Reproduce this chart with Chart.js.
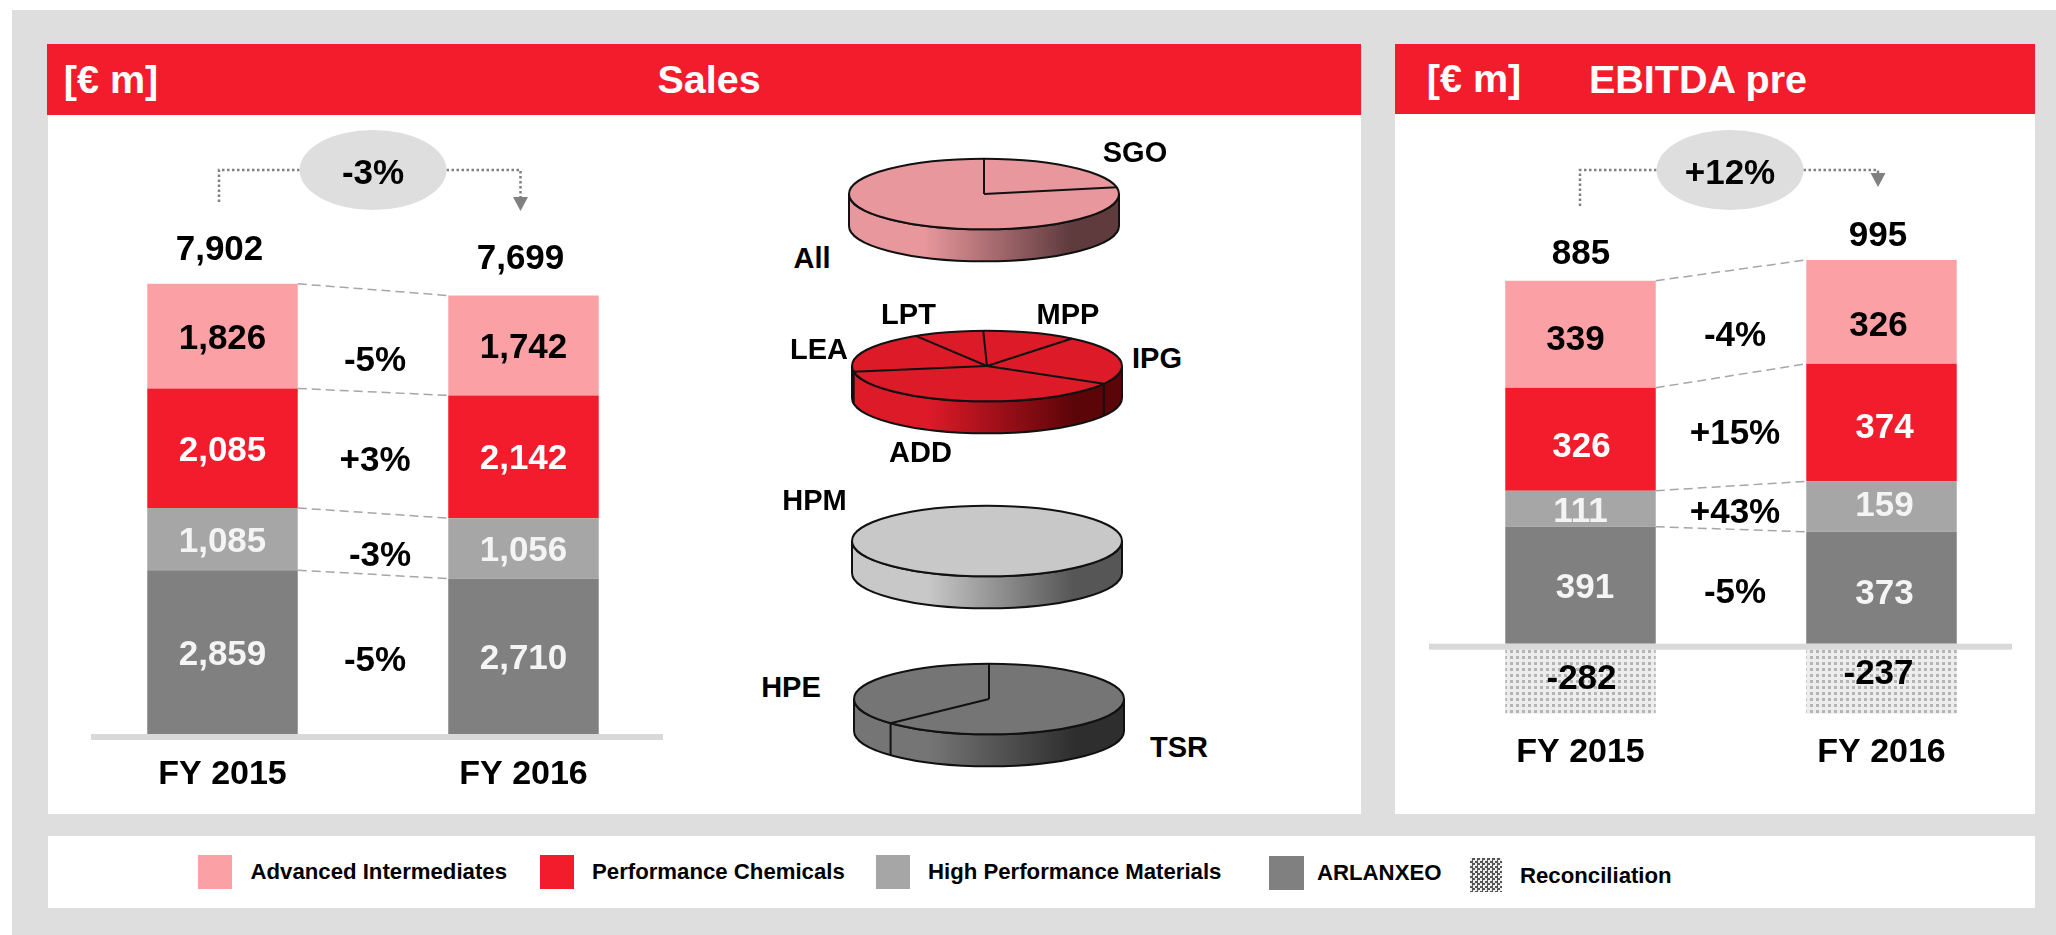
<!DOCTYPE html>
<html>
<head>
<meta charset="utf-8">
<title>Sales and EBITDA pre</title>
<script src="https://cdn.jsdelivr.net/npm/chart.js@4/dist/chart.umd.min.js"></script>
<style>
  html, body { margin: 0; padding: 0; background: #fff; overflow: hidden; }
  body { width: 2056px; height: 935px; position: relative; font-family: "Liberation Sans", Arial, sans-serif; font-weight: bold; color: #000; }
  .box { position: absolute; }
  .frame { left: 12px; top: 10px; width: 2044px; height: 925px; background: #dedede; }
  .panel { background: #fff; }
  .head { background: #f31c2c; color: #fff; }
  .txt { position: absolute; white-space: nowrap; transform: translate(-50%, -50%); line-height: 1; }
  .head-txt { font-size: 39.5px; color: #fff; }
  .pie-txt { font-size: 29px; }
  .leg-txt { position: absolute; white-space: nowrap; font-size: 22.2px; line-height: 1; transform: translateY(-50%); }
  canvas { position: absolute; }
</style>
</head>
<body>
<div class="box frame"></div>
<div class="box panel" style="left:48px;top:115px;width:1313px;height:699px"></div>
<div class="box panel" style="left:1395px;top:114px;width:640px;height:700px"></div>
<div class="box panel" style="left:48px;top:836px;width:1987px;height:72px"></div>
<div class="box head" style="left:47px;top:44px;width:1314px;height:71px"></div>
<div class="box head" style="left:1395px;top:44px;width:640px;height:70px"></div>
<div class="txt head-txt" style="left:111px;top:80px">[€ m]</div>
<div class="txt head-txt" style="left:709px;top:80px">Sales</div>
<div class="txt head-txt" style="left:1474px;top:79px">[€ m]</div>
<div class="txt head-txt" style="left:1698px;top:80px">EBITDA pre</div>
<canvas id="sales" width="626" height="699" style="left:48px;top:115px"></canvas>
<canvas id="ebitda" width="640" height="699" style="left:1395px;top:115px"></canvas>
<div id="pies"></div>
<div id="legend"></div>

<script>
const years = ['FY 2015', 'FY 2016'];
const seriesNames = ['ARLANXEO', 'High Performance Materials', 'Performance Chemicals', 'Advanced Intermediates'];
const reconName = 'Reconciliation';

// Sales, EUR m
const salesArlanxeo = [2859, 2710];
const salesHighPerf = [1085, 1056];
const salesPerfChem = [2085, 2142];
const salesAdvInter = [1826, 1742];
const salesTotals = ['7,902', '7,699'];
const salesDeltas = ['-5%', '-3%', '+3%', '-5%'];
const salesGrowth = '-3%';

// EBITDA pre, EUR m: printed figures
const ebitdaArlanxeo = [391, 373];
const ebitdaHighPerf = [111, 159];
const ebitdaPerfChem = [326, 374];
const ebitdaAdvInter = [339, 326];
const ebitdaRecon = [-282, -237];
const ebitdaTotals = ['885', '995'];
const ebitdaDeltas = ['-5%', '+43%', '+15%', '-4%'];
const ebitdaGrowth = '+12%';

// the source slide does not draw these bars to scale (both reconciliation boxes
// are the same height), so the drawn lengths are read off the picture
const ebitdaArlanxeoDrawn = [376, 360];
const ebitdaHighPerfDrawn = [116, 162];
const ebitdaPerfChemDrawn = [331, 378];
const ebitdaAdvInterDrawn = [344, 334];
const ebitdaReconDrawn = [-225, -225];

// pie shares in %
const pieAllNames = ['SGO', 'All'];
const pieAllShares = [22, 78];
const pieAddNames = ['MPP', 'IPG', 'ADD', 'LEA', 'LPT'];
const pieAddShares = [11.3, 22.5, 39.1, 18.7, 8.4];
const pieHpmNames = ['HPM'];
const pieHpmShares = [100];
const pieTsrNames = ['TSR', 'HPE'];
const pieTsrShares = [63, 37];

const RED = '#f31c2c', PINK = '#fba1a6', MID = '#a6a6a6', DARK = '#808080';
const seriesColors = [DARK, MID, RED, PINK];
const labelColors = ['#f4f4f4', '#f4f4f4', '#fff', '#000'];
const FONT = '"Liberation Sans", Arial, sans-serif';

function dotPattern() {
  const c = document.createElement('canvas');
  c.width = c.height = 6;
  const g = c.getContext('2d');
  g.fillStyle = '#ededed';
  g.fillRect(0, 0, 6, 6);
  g.fillStyle = '#b4b4b4';
  g.fillRect(1, 1, 3, 3);
  return g.createPattern(c, 'repeat');
}

// axis rule, connectors, printed figures and the growth bubble
const slideNotes = {
  id: 'slideNotes',
  afterDraw(chart, args, o) {
    const ctx = chart.ctx;
    ctx.save();
    ctx.translate(-o.left, -o.top); // layout below is in page pixels
    const y0 = chart.scales.y.getPixelForValue(0);
    const metas = o.labels.map((_, i) => chart.getDatasetMeta(i));

    ctx.fillStyle = '#d9d9d9';
    ctx.fillRect(o.left + o.ruleFrom, o.top + y0, o.ruleTo - o.ruleFrom, 6);

    // dashed connectors between the segment tops
    ctx.strokeStyle = '#a6a6a6';
    ctx.lineWidth = 1.5;
    ctx.setLineDash([9, 5]);
    metas.slice(0, 4).forEach(m => {
      const a = m.data[0], b = m.data[1];
      ctx.beginPath();
      ctx.moveTo(o.left + a.x + a.width / 2, o.top + a.y);
      ctx.lineTo(o.left + b.x - b.width / 2, o.top + b.y);
      ctx.stroke();
    });
    ctx.setLineDash([]);

    ctx.textAlign = 'center';
    ctx.textBaseline = 'middle';
    ctx.font = 'bold 35px ' + FONT;

    // values inside the bars
    metas.forEach((m, s) => {
      m.data.forEach((el, i) => {
        const nudge = o.nudges[s][i];
        ctx.fillStyle = s < 4 ? labelColors[s] : '#000';
        ctx.fillText(o.labels[s][i], o.left + el.x + nudge[0], o.top + (el.y + el.base) / 2 + nudge[1] + 3);
      });
    });

    ctx.fillStyle = '#000';
    o.totals.forEach((t, i) => ctx.fillText(t, o.totalX[i], o.totalY[i] + 2));
    o.deltas.forEach((t, i) => ctx.fillText(t, o.deltaX[i], o.deltaY[i] + 3));

    // growth arrow
    const g = o.growth;
    ctx.strokeStyle = DARK;
    ctx.lineWidth = 2.5;
    ctx.setLineDash([2.5, 2.5]);
    ctx.beginPath();
    ctx.moveTo(g.fromX, g.fromY);
    ctx.lineTo(g.fromX, g.y);
    ctx.lineTo(g.cx - g.rx, g.y);
    ctx.moveTo(g.cx + g.rx, g.y);
    ctx.lineTo(g.toX, g.y);
    ctx.lineTo(g.toX, g.toY - 14);
    ctx.stroke();
    ctx.setLineDash([]);
    ctx.fillStyle = DARK;
    ctx.beginPath();
    ctx.moveTo(g.toX - 7.5, g.toY - 14);
    ctx.lineTo(g.toX + 7.5, g.toY - 14);
    ctx.lineTo(g.toX, g.toY);
    ctx.closePath();
    ctx.fill();
    ctx.fillStyle = '#dedede';
    ctx.beginPath();
    ctx.ellipse(g.cx, g.cy, g.rx, g.ry, 0, 0, Math.PI * 2);
    ctx.fill();
    ctx.fillStyle = '#000';
    ctx.fillText(g.text, g.cx, g.cy + 4);
    ctx.restore();
  }
};

function stackedChart(id, sets, notes, yMin, yMax, pad, axisH, tickPad) {
  const datasets = sets.map((data, i) => ({
    label: i < 4 ? seriesNames[i] : reconName,
    data,
    backgroundColor: i < 4 ? seriesColors[i] : dotPattern(),
    barPercentage: 0.5,
    categoryPercentage: 1
  }));
  return new Chart(document.getElementById(id), {
    type: 'bar',
    data: { labels: years, datasets },
    options: {
      responsive: false,
      animation: false,
      layout: { padding: pad },
      plugins: { legend: { display: false }, tooltip: { enabled: false }, slideNotes: notes },
      scales: {
        x: {
          stacked: true,
          grid: { display: false, drawTicks: false },
          border: { display: false },
          ticks: { color: '#000', padding: tickPad, maxRotation: 0, font: { family: FONT, size: 34, weight: 'bold' } },
          afterFit(scale) { scale.height = axisH; }
        },
        y: { stacked: true, display: false, min: yMin, max: yMax }
      }
    },
    plugins: [slideNotes]
  });
}

const noNudge = [[0, 0], [0, 0]];

stackedChart('sales',
  [salesArlanxeo, salesHighPerf, salesPerfChem, salesAdvInter],
  {
    left: 48, top: 115,
    ruleFrom: 43, ruleTo: 615,
    labels: [salesArlanxeo, salesHighPerf, salesPerfChem, salesAdvInter].map(a => a.map(v => v.toLocaleString('en-US'))),
    nudges: [noNudge, noNudge, noNudge, noNudge],
    totals: salesTotals, totalX: [219.5, 520.5], totalY: [248, 257],
    deltas: salesDeltas, deltaX: [375, 380, 375, 375], deltaY: [658, 553.6, 458, 358],
    growth: { text: salesGrowth, cx: 373, cy: 170, rx: 73.5, ry: 40, y: 170, fromX: 219, fromY: 202, toX: 520.5, toY: 211 }
  },
  0, 10800, { left: 24, right: 0, top: 0, bottom: 0 }, 80, 20);

stackedChart('ebitda',
  [ebitdaArlanxeoDrawn, ebitdaHighPerfDrawn, ebitdaPerfChemDrawn, ebitdaAdvInterDrawn, ebitdaReconDrawn],
  {
    left: 1395, top: 115,
    ruleFrom: 34, ruleTo: 617,
    labels: [ebitdaArlanxeo, ebitdaHighPerf, ebitdaPerfChem, ebitdaAdvInter, ebitdaRecon].map(a => a.map(String)),
    nudges: [
      [[4.5, 0], [3, 4]],
      [[0, 1], [3, -3]],
      [[1, 5], [3, 2.4]],
      [[-5, 3], [-3, 11]],
      [[1, -2], [-3, -7]]
    ],
    totals: ebitdaTotals, totalX: [1581, 1878], totalY: [252, 234.5],
    deltas: ebitdaDeltas, deltaX: [1735, 1735, 1735, 1735], deltaY: [590, 510, 431.5, 333],
    growth: { text: ebitdaGrowth, cx: 1730, cy: 170, rx: 73.5, ry: 40, y: 170, fromX: 1580, fromY: 206, toX: 1878, toY: 187 }
  },
  -300, 1700, { left: 35, right: 3, top: 0, bottom: 0 }, 77, -5);

// flat pie chart squashed into an ellipse, with a wall drawn under it
const PIE_K = 0.262, PIE_T = 32;
const squashPie = {
  id: 'squashPie',
  beforeDatasetsDraw(chart, args, o) {
    const ctx = chart.ctx;
    const arc = chart.getDatasetMeta(0).data[0];
    const cx = arc.x, cy = arc.y, rx = arc.outerRadius, ry = rx * PIE_K;
    const grad = ctx.createLinearGradient(cx - rx, 0, cx + rx, 0);
    grad.addColorStop(0, o.base);
    grad.addColorStop(0.28, o.base);
    grad.addColorStop(0.82, o.dark);
    grad.addColorStop(1, o.dark);
    ctx.beginPath();
    ctx.ellipse(cx, cy + PIE_T, rx, ry, 0, Math.PI, 0, true);
    ctx.lineTo(cx + rx, cy);
    ctx.ellipse(cx, cy, rx, ry, 0, 0, Math.PI, false);
    ctx.closePath();
    ctx.fillStyle = grad;
    ctx.fill();
    ctx.lineWidth = 2;
    ctx.strokeStyle = '#111';
    ctx.stroke();
    ctx.save();
    ctx.translate(cx, cy);
    ctx.scale(1, PIE_K);
    ctx.translate(-cx, -cy);
  },
  afterDatasetsDraw(chart) {
    const ctx = chart.ctx;
    ctx.restore();
    const slices = chart.getDatasetMeta(0).data;
    const cx = slices[0].x, cy = slices[0].y, rx = slices[0].outerRadius, ry = rx * PIE_K;
    ctx.lineWidth = 2;
    ctx.strokeStyle = '#111';
    ctx.beginPath();
    ctx.ellipse(cx, cy, rx, ry, 0, 0, Math.PI * 2);
    ctx.stroke();
    if (slices.length < 2) return;
    slices.forEach(s => {
      const px = cx + rx * Math.cos(s.startAngle), py = cy + ry * Math.sin(s.startAngle);
      ctx.beginPath();
      ctx.moveTo(cx, cy);
      ctx.lineTo(px, py);
      if (Math.sin(s.startAngle) > 0) {
        ctx.moveTo(px, py);
        ctx.lineTo(px, py + PIE_T);
      }
      ctx.stroke();
    });
  }
};

const pieSpecs = [
  { names: pieAllNames, shares: pieAllShares, base: '#e8979c', dark: '#5f3b3e', cx: 984, cy: 193.5, rot: 0 },
  { names: pieAddNames, shares: pieAddShares, base: '#dd1a28', dark: '#5c0509', cx: 986.5, cy: 365.5, rot: -1.6 },
  { names: pieHpmNames, shares: pieHpmShares, base: '#c8c8c8', dark: '#565656', cx: 987, cy: 541, rot: 0 },
  { names: pieTsrNames, shares: pieTsrShares, base: '#757575', dark: '#2e2e2e', cx: 989, cy: 699, rot: 0 }
];
const pieLabelSpots = {
  SGO: [1135, 152], All: [812, 258], LPT: [908.5, 314], MPP: [1068, 314], LEA: [819, 349],
  IPG: [1157, 358], ADD: [920.5, 452], HPM: [814.5, 500], HPE: [791, 687], TSR: [1179, 747]
};

const pieHost = document.getElementById('pies');
pieSpecs.forEach(p => {
  const c = document.createElement('canvas');
  c.width = c.height = 290;
  c.style.left = (p.cx - 145) + 'px';
  c.style.top = (p.cy - 145) + 'px';
  pieHost.appendChild(c);
  new Chart(c, {
    type: 'pie',
    data: { labels: p.names, datasets: [{ data: p.shares, backgroundColor: p.base, borderWidth: 0 }] },
    options: {
      responsive: false,
      animation: false,
      rotation: p.rot,
      layout: { padding: 10 },
      plugins: { legend: { display: false }, tooltip: { enabled: false }, squashPie: { base: p.base, dark: p.dark } }
    },
    plugins: [squashPie]
  });
});
['SGO', 'All', 'LPT', 'MPP', 'LEA', 'IPG', 'ADD', 'HPM', 'HPE', 'TSR'].forEach(n => {
  const d = document.createElement('div');
  d.className = 'txt pie-txt';
  d.textContent = n;
  d.style.left = pieLabelSpots[n][0] + 'px';
  d.style.top = pieLabelSpots[n][1] + 'px';
  pieHost.appendChild(d);
});

// legend
const legendItems = [
  { name: seriesNames[3], fill: PINK, x: 198, y: 855, w: 34, tx: 250.5, ty: 872 },
  { name: seriesNames[2], fill: RED, x: 540, y: 855, w: 34, tx: 592, ty: 872 },
  { name: seriesNames[1], fill: MID, x: 876, y: 855, w: 34, tx: 928, ty: 872 },
  { name: seriesNames[0], fill: DARK, x: 1269, y: 856, w: 35, tx: 1317, ty: 873 },
  { name: reconName, fill: 'repeating-conic-gradient(#555 0 25%, #eee 0 50%) 0 0/5px 5px', x: 1470, y: 858, w: 32, tx: 1520, ty: 876 }
];
const legendHost = document.getElementById('legend');
legendItems.forEach(it => {
  const s = document.createElement('div');
  s.className = 'box';
  s.style.cssText = `left:${it.x}px;top:${it.y}px;width:${it.w}px;height:34px;background:${it.fill}`;
  legendHost.appendChild(s);
  const t = document.createElement('div');
  t.className = 'leg-txt';
  t.textContent = it.name;
  t.style.left = it.tx + 'px';
  t.style.top = it.ty + 'px';
  legendHost.appendChild(t);
});
</script>
</body>
</html>
